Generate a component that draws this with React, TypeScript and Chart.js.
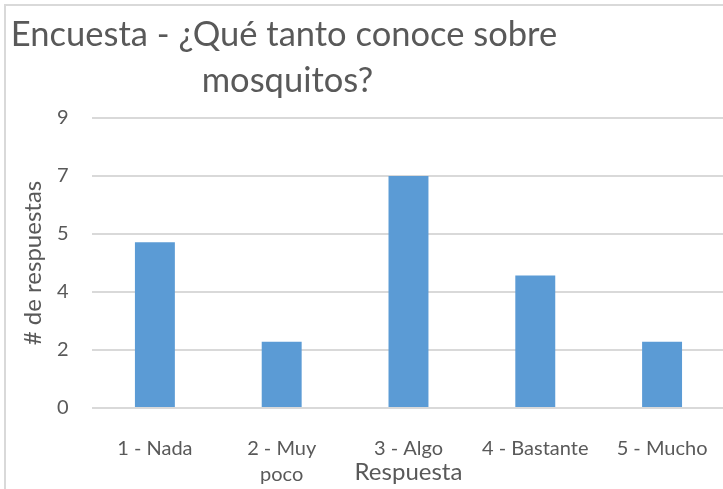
import { useEffect, useRef } from "react";
import { Chart, registerables } from "chart.js";

Chart.register(...registerables);

const TITLE_LINES = ["Encuesta - ¿Qué tanto conoce sobre", "mosquitos?"];
const CATEGORIES: (string | string[])[] = [
  "1 - Nada",
  ["2 - Muy", "poco"],
  "3 - Algo",
  "4 - Bastante",
  "5 - Mucho",
];
const RESPONSES = [5, 2, 7, 4, 2];
const Y_MIN = 0;
const Y_MAX = 8.75;
const Y_STEP = 1.75;
const X_TITLE = "Respuesta";
const Y_TITLE = "# de respuestas";

const FONT = "Lato";
const TEXT = "#595959";
const GRID = "#d9d9d9";
const BAR = "#5b9bd5";

const decor = {
  id: "decor",
  beforeDraw(chart: any) {
    const ctx = chart.ctx;
    ctx.save();
    ctx.fillStyle = "#ffffff";
    ctx.fillRect(0, 0, chart.width, chart.height);
    ctx.strokeStyle = GRID;
    ctx.lineWidth = 2;
    ctx.beginPath();
    ctx.moveTo(5, chart.height + 5);
    ctx.lineTo(5, 5);
    ctx.lineTo(chart.width + 5, 5);
    ctx.stroke();
    ctx.restore();
  },
  afterDraw(chart: any) {
    const ctx = chart.ctx;
    ctx.save();
    ctx.fillStyle = TEXT;
    ctx.font = `34.5px ${FONT}`;
    ctx.textAlign = "center";
    ctx.textBaseline = "alphabetic";
    ctx.fillText(TITLE_LINES[0], 284, 45.5);
    ctx.fillText(TITLE_LINES[1], 287.5, 92);
    ctx.restore();
  },
};

export default function App() {
  const ref = useRef<HTMLCanvasElement | null>(null);

  useEffect(() => {
    if (!ref.current) return;
    const chart = new Chart(ref.current, {
      type: "bar",
      data: {
        labels: CATEGORIES,
        datasets: [
          {
            data: RESPONSES,
            backgroundColor: BAR,
            borderWidth: 0,
            categoryPercentage: 1,
            barPercentage: 0.315,
          },
        ],
      },
      options: {
        animation: false,
        responsive: false,
        devicePixelRatio: 1,
        layout: { padding: { top: 118, left: 0, right: 0, bottom: 0 } },
        plugins: {
          legend: { display: false },
          tooltip: { enabled: false },
          title: { display: false },
        },
        scales: {
          x: {
            grid: { display: false },
            border: { display: false },
            ticks: {
              color: TEXT,
              font: { family: FONT, size: 20, lineHeight: 1.3 },
              padding: 19.5,
              maxRotation: 0,
              autoSkip: false,
            },
            title: {
              display: true,
              text: X_TITLE,
              color: TEXT,
              font: { family: FONT, size: 24, lineHeight: 1.2 },
              padding: { top: 0, bottom: 2.3 },
            },
            afterFit(scale: any) {
              scale.height = 81;
            },
          },
          y: {
            min: Y_MIN,
            max: Y_MAX,
            grid: { color: GRID, lineWidth: 2, drawTicks: false },
            border: { display: false },
            ticks: {
              stepSize: Y_STEP,
              color: TEXT,
              font: { family: FONT, size: 20 },
              padding: 23,
              callback: (v: any) => String(Math.round(Number(v))),
            },
            title: {
              display: true,
              text: Y_TITLE,
              color: TEXT,
              font: { family: FONT, size: 24, lineHeight: 1.2 },
              padding: { top: 18.6, bottom: 0 },
            },
            afterFit(scale: any) {
              scale.width = 91.5;
            },
          },
        },
      },
      plugins: [decor],
    });
    return () => chart.destroy();
  }, []);

  return (
    <div
      style={{
        position: "fixed",
        left: 0,
        top: 0,
        width: 723,
        height: 489,
        overflow: "hidden",
        background: "#fff",
      }}
    >
      <canvas ref={ref} width={727} height={489} style={{ display: "block" }} />
    </div>
  );
}
